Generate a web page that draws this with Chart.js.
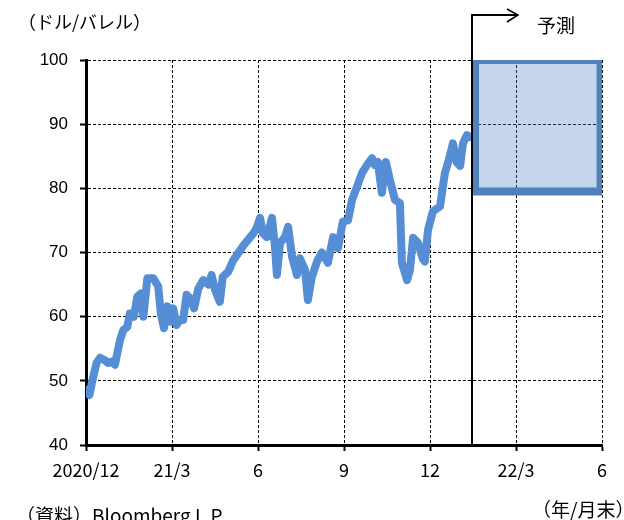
<!DOCTYPE html>
<html>
<head>
<meta charset="utf-8">
<script src="https://cdn.jsdelivr.net/npm/chart.js@4.4.0/dist/chart.umd.min.js"></script>
<style>
  html, body { margin: 0; padding: 0; background: #fff; }
  canvas { display: block; }
</style>
</head>
<body>
<canvas id="chart" width="624" height="520"></canvas>
<script>
// months after end of 2020/12 (x) and WTI price in $/bbl (y)
const monthPos = [0.02, 0.12, 0.25, 0.37, 0.49, 0.66, 0.77, 0.90, 1.01, 1.09, 1.19, 1.30, 1.44, 1.53, 1.67, 1.79, 1.91, 2.00,
  2.14, 2.35, 2.52, 2.61, 2.72, 2.84, 2.95, 3.04, 3.16, 3.28, 3.39, 3.51, 3.63, 3.77, 3.92, 4.09, 4.27, 4.38, 4.50, 4.67,
  4.77, 4.96, 5.14, 5.31, 5.51, 5.66, 5.84, 5.95, 6.07, 6.17, 6.31, 6.49, 6.59, 6.66, 6.77, 6.94, 7.05, 7.19, 7.36, 7.46,
  7.64, 7.74, 7.88, 8.06, 8.23, 8.44, 8.62, 8.79, 8.96, 9.14, 9.28, 9.45, 9.63, 9.80, 9.98, 10.08, 10.18, 10.32, 10.46,
  10.60, 10.78, 10.95, 11.02, 11.20, 11.30, 11.41, 11.58, 11.75, 11.82, 11.93, 12.10, 12.35, 12.52, 12.63, 12.80, 12.94,
  13.05, 13.15, 13.29, 13.39];
const prices = [48.6, 47.8, 50.6, 52.8, 53.6, 53.2, 52.8, 53.0, 52.5, 54.3, 56.4, 57.9, 58.4, 60.5, 60.0, 63.1, 63.6, 60.0,
  66.0, 66.0, 64.7, 60.5, 58.2, 61.6, 59.2, 61.3, 58.7, 59.5, 59.5, 63.4, 62.9, 61.3, 64.4, 65.7, 65.0, 66.5, 64.2, 62.3,
  66.2, 67.0, 68.8, 69.9, 71.2, 72.0, 73.0, 73.8, 75.4, 73.0, 72.4, 75.4, 70.9, 66.5, 71.5, 72.4, 74.0, 69.3, 66.5, 69.1,
  67.3, 62.6, 66.2, 68.6, 70.0, 68.4, 72.4, 70.7, 74.8, 75.0, 78.2, 80.2, 82.4, 83.6, 84.7, 83.6, 84.1, 79.3, 84.1,
  81.3, 78.2, 77.7, 68.4, 65.7, 67.3, 72.3, 71.5, 69.0, 68.6, 73.5, 76.4, 77.2, 82.4, 84.0, 87.0, 84.0,
  83.5, 87.0, 88.3, 88.0];

const xTickLabels = ["2020/12", "21/3", "6", "9", "12", "22/3", "6"];

// forecast range
const forecastMarker = 13.46;
const forecastStart = 13.57;
const forecastEnd = 17.95;
const forecastLow = 79.5;
const forecastHigh = 100;

const lineData = monthPos.map((m, i) => ({ x: m, y: prices[i] }));
const boxData = [
  { x: forecastStart, y: forecastHigh },
  { x: forecastEnd, y: forecastHigh },
  { x: forecastEnd, y: forecastLow },
  { x: forecastStart, y: forecastLow },
  { x: forecastStart, y: forecastHigh },
];

const jpFont = "'Noto Sans CJK JP', sans-serif";

// labels and the forecast arrow
const extras = {
  id: "extras",
  afterDraw(chart) {
    const ctx = chart.ctx;
    const xs = chart.scales.x;
    const area = chart.chartArea;
    const fx = Math.round(xs.getPixelForValue(forecastMarker));
    ctx.save();
    ctx.strokeStyle = "#000";
    ctx.lineWidth = 2;
    ctx.beginPath();
    ctx.moveTo(fx, area.bottom);
    ctx.lineTo(fx, 15);
    ctx.lineTo(fx + 46, 15);
    ctx.stroke();
    ctx.lineWidth = 1.5;
    ctx.beginPath();
    ctx.moveTo(fx + 35, 9);
    ctx.lineTo(fx + 46, 15);
    ctx.lineTo(fx + 35, 22);
    ctx.stroke();

    ctx.fillStyle = "#000";
    ctx.textBaseline = "middle";
    ctx.textAlign = "left";
    ctx.font = "19px " + jpFont;
    ctx.fillText("予測", 537, 26);
    ctx.font = "18px " + jpFont;
    ctx.fillText("（ドル/バレル）", 18, 22);
    ctx.font = "19px " + jpFont;
    ctx.fillText("（資料）Bloomberg L.P.", 16, 516);
    ctx.fillText("（年/月末）", 532, 510);
    ctx.restore();
  }
};

new Chart(document.getElementById("chart"), {
  type: "line",
  data: {
    datasets: [
      {
        label: "予測",
        data: boxData,
        borderColor: "#4F81BD",
        backgroundColor: "rgba(79,129,189,0.32)",
        borderWidth: 8,
        borderJoinStyle: "miter",
        fill: "shape",
        pointRadius: 0,
        tension: 0,
      },
      {
        label: "WTI",
        data: lineData,
        borderColor: "#558ED5",
        borderWidth: 8,
        borderJoinStyle: "round",
        borderCapStyle: "round",
        pointRadius: 0,
        tension: 0,
        fill: false,
      },
    ],
  },
  options: {
    responsive: false,
    animation: false,
    layout: { padding: { left: 0, top: 60, right: 22, bottom: 0 } },
    plugins: {
      legend: { display: false },
      tooltip: { enabled: false },
    },
    scales: {
      x: {
        type: "linear",
        min: 0,
        max: 18,
        afterFit: (s) => { s.height = 75; },
        afterBuildTicks: (s) => { s.ticks = xTickLabels.map((_, i) => ({ value: i * 3 })); },
        ticks: {
          autoSkip: false,
          maxRotation: 0,
          padding: 8,
          color: "#000",
          font: { family: jpFont, size: 18 },
          callback: (v) => xTickLabels[Math.round(v / 3)],
        },
        grid: { color: "#000", lineWidth: 1, tickColor: "#000", tickWidth: 2, tickLength: 6 },
        border: { color: "#000", width: 3, dash: [3, 2] },
      },
      y: {
        min: 40,
        max: 100,
        afterFit: (s) => { s.width = 86; },
        ticks: {
          stepSize: 10,
          padding: 12,
          color: "#000",
          font: { family: "'Liberation Sans', Arial, sans-serif", size: 17 },
        },
        grid: { color: "#000", lineWidth: 1, tickColor: "#000", tickWidth: 2, tickLength: 6 },
        border: { color: "#000", width: 3, dash: [3, 2] },
      },
    },
  },
  plugins: [extras],
});
</script>
</body>
</html>
